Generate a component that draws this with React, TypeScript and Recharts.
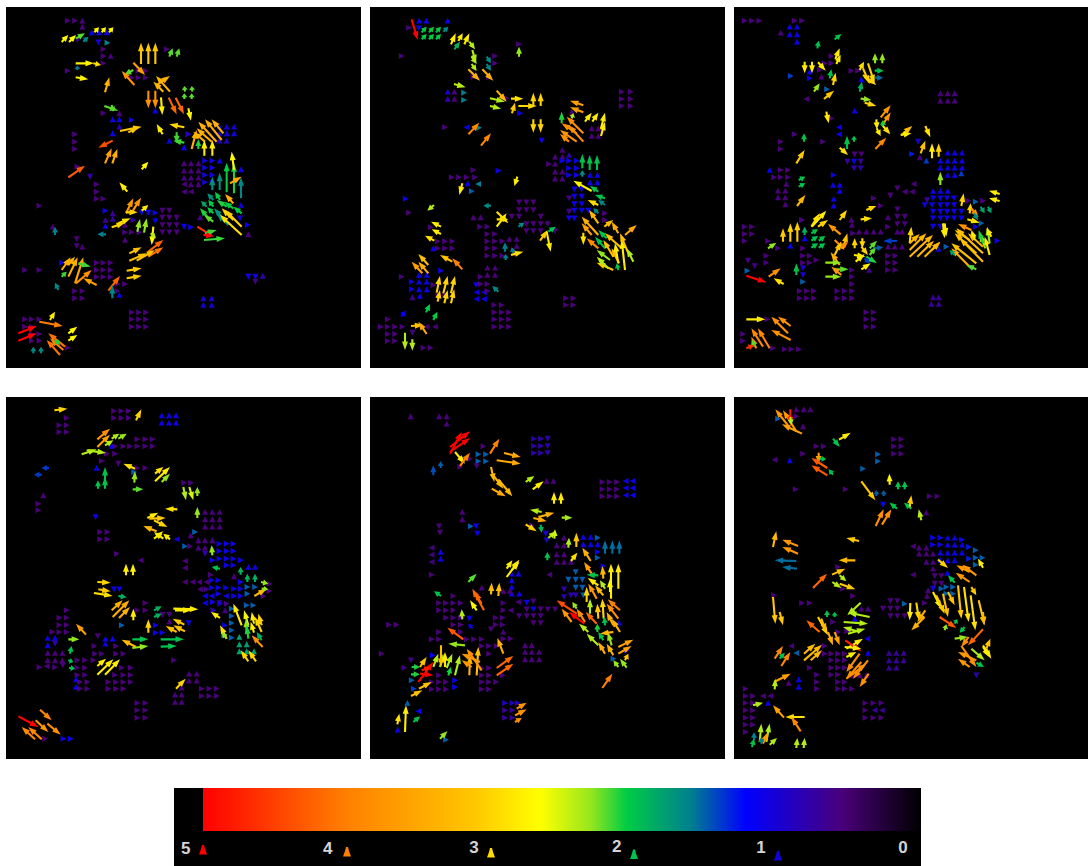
import React from "react";
import { ScatterChart, Scatter, XAxis, YAxis, ReferenceArea } from "recharts";

// long arrows: tail x, tail y, tip x, tip y, speed (grid units = 1/3 px)
// small arrows: heading, speed, y, then the x of each arrow in that row
type A = number[];
const R = 0, U = 90, L = 180, D = 270;

const p1Long: A[] = [
[185,126,205,105,2.7],[207,126,228,105,2.7],[228,115,255,100,2.2],[250,125,265,110,1.65],[283,97,297,82,2.7],[305,97,318,82,2.7],[327,97,340,82,2.7],
[227,190,282,190,2.75],[280,190,303,195,2.9],[227,232,265,238,2.75],[232,210,232,197,1.6],[423,192,423,128,3.1],[445,192,445,128,3.1],[466,192,466,128,3.1],
[508,170,518,145,2.2],[530,170,538,145,2.2],[400,188,435,225,3.6],[400,210,372,225,2.2],[403,255,365,213,3.8],[315,277,328,232,3.4],
[510,275,468,228,3.3],[490,275,460,245,3.3],[470,255,510,228,3.4],[445,272,445,325,3.8],[466,272,466,325,3.8],[483,292,487,345,2.8],[506,293,530,343,4.2],[527,293,552,343,4.2],
[555,275,553,258,2.2],[553,297,553,280,2.2],[577,275,575,258,2.2],[575,297,575,280,2.2],[565,325,573,362,2.7],[313,318,355,332,2.2],[335,315,340,335,2.2],
[360,393,425,380,3.1],[385,397,415,382,3.1],[488,403,470,372,2.8],[553,382,508,373,3],[530,397,530,430,2.15],[553,428,520,422,2.15],[338,422,295,443,4.4],
[315,490,335,445,3.6],[337,490,352,447,3.4],[425,508,445,485,2.7],[205,532,255,497,4.3],[382,575,358,547,2.8],
[637,570,637,530,1.7],[659,570,659,518,1.7],[680,577,680,488,2.05],[702,580,702,490,2.1],[702,510,695,455,2.7],[723,595,723,532,1.65],[690,550,725,530,3.5],
[665,420,615,358,3.4],[650,425,595,365,3.4],[635,425,590,385,3.4],[615,425,580,395,3.4],[670,400,635,358,3.4],[575,447,590,390,3.4],[595,447,595,418,2.1],[613,467,613,420,2.8],[637,467,637,420,2.8],
[640,600,622,580,1.7],[660,600,645,575,2.05],[620,620,603,603,1.8],[640,640,622,622,2.05],[622,650,600,625,2.1],[640,665,612,645,2.2],[640,620,625,600,2.05],[680,620,650,600,2.1],[665,650,642,625,1.7],[700,625,672,605,2.05],[685,675,650,640,1.7],[700,660,665,625,3],[725,680,675,630,3],[725,705,660,645,2.9],[725,640,700,620,2.05],[700,610,675,582,3.4],
[592,680,640,710,4.6],[612,720,675,715,2.15],[615,700,650,690,2.15],[610,705,640,708,5],
[378,640,400,595,3.7],[395,638,423,593,3.7],[378,637,413,637,3],[425,632,445,615,2.8],[355,670,392,655,2.9],[335,682,375,668,3],[412,695,420,657,2.3],[432,698,440,655,2.3],
[460,680,455,735,2.7],[452,700,468,715,2.4],[445,755,490,720,4.2],[445,770,490,742,4.1],[388,760,425,742,3.2],[388,782,440,760,3.2],[410,782,465,750,3.2],
[318,703,292,703,1.6],[165,705,165,680,1.6],[185,810,212,772,3.4],[205,830,233,772,3.4],[225,850,250,772,3.5],[228,850,275,810,3.8],[290,855,250,835,3.6],[205,795,225,770,3.4],[185,830,200,815,2.15],[235,790,272,800,2.15],
[380,812,425,805,3.1],[380,835,425,827,3.1],[325,872,360,828,4.2],[337,895,337,855,1.65],[175,870,165,848,1.65],
[55,1000,110,978,5],[55,1022,110,1000,5],[118,965,188,978,4],[150,960,165,935,2.8],[205,1000,232,980,2.7],[205,1022,232,1005,2.7],[195,1040,145,1000,4.1],[180,1065,140,1020,4.1],[190,1050,150,1015,4],[165,1020,180,1035,2.1],[100,1060,100,1040,1.65],[123,1060,123,1040,1.65],
];
const p1Small: A[] = [
[R,.55,62,203,225],[U,.55,62,247],[U,.55,80,247],[U,1.1,97,275,297,320],[D,.6,120,232],[D,1,127,295],[R,1.6,128,322],[R,.55,148,310,500],[R,.55,168,310],[U,.55,168,332],[R,.55,190,310],[R,.55,212,203,415,437],[R,.55,233,395,415,437],
[U,.55,340,358],[R,.55,340,310],[U,1.1,358,338,358],[R,1.1,360,395],[U,1.1,332,466],[U,.8,380,358],[U,1.1,400,338],[R,.55,403,225,565],[R,.55,425,225],[R,.55,447,225],[R,.55,500,232],[D,.8,530,270],[R,.55,553,290],[R,.55,575,290],[R,.55,596,290,310],
[U,.55,490,552,573,595],[U,.55,512,552,573,595],[U,.55,533,552,573,595],[L,.55,553,552],[U,.55,553,573,595],[L,.55,575,552,573],[R,1.05,482,615,637],[U,1.1,482,659],[R,1.05,503,615,637],[R,1.05,525,615,637],[R,1.05,547,615,637],[U,1.1,508,723],
[U,1.05,380,658,680,702],[U,1.05,400,658,680,702],[U,.9,422,658,680],[U,1.1,422,508],[U,1.1,442,552],[R,.9,403,565],[U,1.05,615,723],[D,1,655,720],[U,.6,652,600],[R,1.1,675,743],[U,.55,703,745],
[D,1.1,680,552],[R,1.1,682,573],[D,.55,632,487,508],[D,.55,653,487,508,530],[D,.55,675,487,508,530],[D,.55,697,487,508,530],[D,1.1,638,425,445],[R,1.1,638,466],[D,1.1,663,466],[R,.8,660,400],[R,1.1,632,316],[U,.7,640,338],[U,.7,657,338],[U,.7,660,316],[U,1.1,678,316],[U,.55,675,375],[R,.55,697,375,395,418],[U,.55,720,375],
[U,.55,680,158],[D,.55,717,230],[D,.55,738,230],[U,.55,740,247],[R,1.1,788,186],[R,.55,788,290,310,332],[R,.55,810,75,118,290,310,332],[R,.55,831,290,310,332],[R,.55,873,225,247,352],[R,.55,895,225,247],[R,.55,852,352,375],[U,1.1,885,358],[R,.55,617,118],
[U,1,895,610,635],[U,1,915,610,635],[R,.55,937,395,417,438],[R,.55,958,395,417,438,75,95,118],[R,.55,980,395,417,438,75,95],[R,.55,1002,118,95],[R,.55,1022,95,118],[R,.55,1043,203],[D,.6,845,766],[D,1.1,830,745,766],[U,.8,828,788],
];

const p2Long: A[] = [
[140,58,158,120,5],[170,97,185,80,2.05],[192,97,207,80,2.05],[213,97,228,80,2.05],[235,95,250,80,1.65],[170,118,185,102,2.05],[192,118,207,102,2.05],[213,118,228,102,2.05],
[258,133,272,100,2.8],[280,123,293,100,2.8],[298,133,313,100,2.8],[268,148,285,125,1.9],[313,125,330,148,2.4],[322,150,333,190,2.4],[320,170,335,192,2.4],[320,192,335,213,2.4],[310,208,345,242,3.4],[352,208,385,242,3.4],
[365,170,378,190,1.65],[365,192,378,212,1.65],[462,170,462,140,2.3],[267,252,302,262,2.4],[375,295,420,305,2.4],[375,318,408,326,2.4],[395,272,425,305,3.3],[438,296,475,296,2.9],[460,318,515,318,2.95],[441,340,450,308,3.1],[505,318,505,278,3],[527,318,527,278,3],[505,358,505,398,3],[527,358,527,398,3],
[310,403,343,368,3.9],[348,437,378,400,3.9],[655,316,615,302,3.6],[655,337,615,322,3.6],[590,370,590,335,2.1],[655,400,605,350,3.8],[635,400,590,370,3.8],[655,425,610,375,3.8],[635,425,585,390,3.8],[612,425,585,402,3.8],[620,355,625,340,2.4],[660,365,680,338,2.8],[682,365,700,338,2.8],[708,385,720,338,2.8],[708,408,720,365,2.8],
[652,505,652,462,2],[674,510,674,465,2],[696,510,696,465,2],[652,530,652,510,1.65],[680,573,625,542,2.75],[700,575,675,558,2],[720,595,690,585,2],[720,615,700,600,1.65],[700,615,668,600,2.9],[700,640,685,625,1.65],[700,670,672,630,3.3],
[700,705,650,650,3.4],[680,705,650,670,3.6],[655,698,655,735,2.9],[700,745,665,715,3.9],[725,715,700,690,2],[720,745,690,710,2],[770,745,720,700,3.2],[745,770,715,720,3.2],[762,790,740,745,3.2],[790,760,765,700,3.2],[780,810,770,720,2.8],[760,790,750,730,2.8],[718,680,745,660,3.2],[780,705,815,675,3.5],[760,700,740,665,3.4],[805,785,785,745,2.4],[745,810,695,788,3.1],[730,805,695,770,2.4],[735,780,695,750,2.3],[760,810,755,790,2],
[457,530,448,558,2.8],[292,550,283,585,2.8],[207,615,187,632,2.4],[378,617,355,617,1.65],[395,635,430,670,2.9],[395,680,425,640,2.8],[395,658,430,658,2.9],[460,680,478,668,1.65],[550,695,572,680,2],[525,722,548,690,3.1],[545,695,557,755,2.8],
[420,755,420,727,1.6],[445,760,440,742,1.6],[422,780,422,762,1.6],[438,765,475,755,2.9],[228,680,198,665,2.8],[228,702,200,688,2.8],[208,722,180,707,2.9],[262,785,225,765,3.2],[292,808,262,775,4],[190,795,160,762,3.2],[190,820,160,785,3.4],[172,820,140,785,3.6],
[215,878,225,828,3],[235,880,248,828,3],[258,880,270,828,3],[218,905,225,870,3],[238,910,248,870,3],[258,910,268,868,3],[400,875,382,858,1.65],[183,937,195,912,2.05],[205,960,217,935,2.05],[108,950,122,932,1.2],[138,978,175,975,3.2],[185,1002,160,965,3.5],[120,998,120,1050,2.4],[142,1018,142,1052,2.4],
];
const p2Small: A[] = [
[U,1.1,62,162,184,248],[R,.55,83,132],[D,1.1,85,162],[R,.55,133,462],[R,.55,168,110,390],[R,.55,190,390],[R,.55,232,325,372],[U,1,275,248],[U,.55,275,268],[U,.8,297,248],[U,.55,297,268],[R,1.6,278,297],[R,1.6,300,297],[R,.55,295,425],[R,1.1,340,465],
[R,.55,382,240],[L,1.1,382,305],[R,1.6,383,342],[D,1.1,422,530],[R,.55,275,770,797],[R,.55,297,770,797],[R,.55,318,770,797],[U,.55,385,680,700],[U,.55,408,680,700],[U,.55,335,620],
[U,.55,450,592],[U,.55,470,570,592],[U,.8,465,612],[R,.55,492,552],[U,.55,492,570],[R,1.1,482,592,612,635],[R,1.1,505,612,635],[U,.55,515,570,592],[R,1.1,525,612,635],[U,.55,536,570,592],[U,1.1,525,675,697],[U,1.1,547,675,697],
[D,1.1,568,628,650],[D,1.1,590,628,650],[D,.6,595,612],[D,1.1,612,628,650],[D,1.1,632,628,650,670],[D,.6,635,612],[D,1.1,655,612,628],[R,.55,640,720],[R,.55,660,720],
[R,.55,510,325],[R,1.1,512,400],[R,.55,532,260,282,305,330],[U,1.1,550,308],[L,1.6,552,340],[R,1.5,574,320],[R,1.1,596,122],[R,.55,638,132],[D,.55,607,462,484,505],[D,.55,630,462,484,505],[D,.55,650,440,462,527],[D,.55,672,484,505,527,548],[D,.55,693,484,505,527,570],[U,.55,652,325,347],[R,.55,680,345,367],
[R,.55,702,367,390],[R,.55,724,367,390,412,218,240,262],[R,.55,745,367,390,218,240,262],[R,.55,767,367,390,412],[U,.55,717,433,455],[U,.55,738,455],[R,.55,760,455],[R,.55,682,197],[U,1.1,745,205],[R,.55,830,110],
[U,1.1,825,162,185],[R,1.1,845,140],[U,1.1,845,162,185],[R,1.1,868,140],[U,1.1,868,162,185],[U,.6,892,142],[U,1.1,888,165],[R,1.1,812,228],[R,.55,885,220,240],[R,.55,855,205],[D,1.1,855,333],[L,1.1,877,335,357],[L,1.1,897,335,357],[R,.55,830,347],[R,.55,852,347,367],[U,.55,803,367,390],[U,.55,825,367,390],[R,.55,873,367],
[R,.55,915,388,410,603,625],[R,.55,895,603,625],[R,.55,937,388,410,432],[R,.55,958,388,410,432,68],[R,.55,980,388,410,432,47,68,90,112],[R,.55,1002,68,90],[R,.55,1023,68,90],[R,.55,1043,175,197],[L,.55,980,185,210],[D,.6,998,142],
];

const p3Long: A[] = [
[268,145,272,122,2],[320,118,340,102,2],[322,177,335,145,2.8],[325,192,338,165,2.8],[230,185,230,220,2.8],[252,185,252,220,2.8],[270,187,293,212,2.8],[305,235,310,208,2],[315,255,323,218,3],[258,275,275,250,2.3],[288,297,318,272,3.1],
[441,190,441,160,2.3],[463,190,463,160,2.3],[395,210,408,185,2.9],[420,190,440,250,3],[405,225,445,255,3],[405,205,425,252,3],[440,212,467,212,2],[440,233,465,233,1.55],[395,275,402,245,1.9],[398,296,430,300,2.3],[410,308,445,318,3],
[458,352,488,316,3.7],[462,378,488,337,3.7],[445,358,447,388,2.8],[446,385,458,408,2.8],[465,380,465,360,2.1],[465,378,487,403,2.9],[442,447,475,413,3.9],[295,335,302,370,2.8],[228,425,228,400,2],[357,447,357,407,2],[378,425,378,407,2],[335,443,360,465,2.9],[205,490,230,450,3.1],
[520,405,553,378,3.2],[518,405,550,400,2.8],[592,378,607,412,2.9],[578,460,592,422,3.2],[612,475,612,430,2.8],[632,470,632,430,3],[637,555,637,515,2.3],[212,540,232,530,2],[212,560,232,550,2],[207,618,232,585,3.3],
[700,618,707,580,3],[758,620,770,640,1.8],[780,620,790,640,1.8],[815,582,783,572,2.8],[815,603,783,595,2.8],[725,640,728,610,3],[730,625,752,652,3.8],[738,640,750,660,1.7],[718,658,755,668,2.9],
[335,660,357,630,3],[250,680,275,640,2.9],[252,680,295,632,2.8],[270,680,300,660,3],[415,630,445,618,3],[398,658,432,655,2.9],[165,725,165,685,3.1],[187,725,187,670,3],[208,725,208,665,3.1],[230,705,230,680,1.9],[120,745,145,728,2.3],
[250,700,270,688,2],[250,722,270,708,2],[272,722,292,708,2],[250,743,270,730,2],[272,743,292,730,2],[338,703,300,672,3.7],[320,720,350,750,3.8],[345,745,358,700,3.2],[320,765,340,725,3.1],[338,745,360,725,3.8],[380,745,380,715,3],[403,715,403,745,3],[400,740,420,765,3],
[425,745,447,722,2.2],[425,765,445,740,2.2],[415,770,447,790,2.1],[378,765,412,770,2.8],[383,785,410,762,2.8],[400,808,428,790,2.8],[410,775,425,790,1.4],[440,745,465,742,1.5],[507,723,465,723,1.4],[335,795,308,757,3.4],[292,788,340,788,2.3],[318,808,362,808,2.2],[292,830,340,830,2.3],[340,825,310,800,3.7],
[205,825,205,790,2],[55,827,115,847,5],[122,830,158,805,3.8],[167,852,137,835,2.9],
[545,730,550,680,3],[545,730,575,702,3.3],[545,750,595,700,3.3],[545,770,615,705,3.3],[568,770,618,722,3.3],[590,770,637,725,3.3],[612,750,637,725,3.3],
[650,670,655,710,2.8],[765,785,695,715,3.2],[745,790,670,730,3.2],[745,760,680,700,3.2],[765,760,685,685,3.2],[725,800,670,745,3.4],[730,690,690,672,3.8],[765,740,720,700,3.4],[725,720,680,690,3.2],[740,720,730,690,2.8],[785,765,770,710,2.8],[772,745,755,700,2.3],[785,730,778,680,2.3],[790,710,775,685,2.8],[645,670,650,715,2.8],[745,808,715,795,2.2],[680,765,665,750,1.8],[765,730,752,690,2.1],
[55,958,112,958,2.8],[188,978,150,950,3.8],[180,1000,130,950,3.8],[188,1020,130,990,3.8],[125,1045,90,985,3.9],[105,1040,70,985,3.9],[85,1045,70,1010,4],[80,1040,72,1020,2.2],[55,1045,80,1035,4.6],
];
const p3Small: A[] = [
[R,.55,62,50,72,94,200,222],[U,.6,98,158],[U,1.1,80,185,207],[U,1.1,103,185,207],[U,1.1,125,207],[R,.55,190,290,310],[R,.55,168,310],[R,.55,210,275],[U,1.1,215,245],[R,1.1,235,245],[R,1.4,228,188],[U,.55,230,280],[R,1.5,268,297],[L,.55,297,235],[R,.55,212,370,390],[U,1.2,238,400],
[U,1.1,332,380],[U,.55,280,637,659,680],[U,.55,302,637,659,680],[R,.55,355,310],[L,1.1,382,333],[L,1.1,403,333],[R,.55,403,200],[R,.55,425,158,285],[R,.55,447,158],[D,.55,463,380,400],[D,.7,485,358,398],[D,1.1,485,378],[D,.8,505,378,398],[D,1,425,570],[R,1.3,462,552],[U,.55,472,575],[U,1.4,482,595],
[U,1.1,458,659,680,702],[U,1.1,482,637,659,680,702],[U,1.1,503,637,659,680,702],[U,1.1,525,659,680],[U,1.4,520,700],[U,1.1,510,125],[R,.55,510,158,180],[R,.55,532,138,158,180],[U,.55,552,175],[U,.55,572,150,172],[U,.55,592,150,172],[U,.55,613,172],[R,1.1,525,317],[U,1.1,555,315,335],[U,1.1,573,335],[U,1.1,597,317],[U,1.1,617,317],
[D,.55,565,508],[L,.55,575,530,552],[L,.55,552,557],[D,.55,587,487],[R,.55,595,437],[R,.55,617,458],[D,.55,628,508],[D,.55,650,508,530],[U,.55,652,480],[D,.55,672,508,530],[U,.55,695,393,415,437,458,522,508],[R,.55,680,480],[U,.55,660,370],[U,.55,675,372],[R,.55,700,375],[U,1.1,737,187],[R,.55,660,222],
[U,1.1,573,615,637,659],[D,.7,600,597],[D,1.1,595,615,637,657,678],[D,1.1,615,590,612,637,657,678],[D,1.1,635,615,637,657,678,700],[D,1.1,655,615,637,657,678,700],[D,1.1,680,615,637],[R,1.5,605,743],[R,.55,602,720,765],[R,1.1,680,743],[R,1.5,670,760],[R,1.1,722,808],[U,1,747,632],[R,1.5,740,655],
[R,.55,680,50,72],[R,.55,702,50,72],[R,.55,723,50,120],[U,1.1,715,230],[R,.55,660,222],[R,.55,745,225,150],[R,.55,767,225,245,480,502,115],[R,.55,788,225,245,480,502,115],[R,.55,810,480,502],[U,.55,740,500,522,480],[R,.55,810,372],[R,.55,830,372],[R,.55,852,372],[R,.55,780,265],
[D,1,805,225],[D,1,825,225],[R,1.5,845,225],[D,.6,782,60],[D,.6,798,80],[R,1.5,812,58],[U,.6,810,423],[R,.55,873,215,237,258,328,350,372],[R,.55,895,215,237,258,328,350,372],[U,.7,892,615,632],[U,.7,912,610,632],[R,.55,937,415,437],[R,.55,958,415,437,118],[R,.55,980,415,437],[R,.55,1002,45],[R,.55,1023,45],[R,.55,1045,135],[R,.55,1048,170,190,213],
];

const p4Long: A[] = [
[163,55,202,50,3],[408,85,424,52,3],[292,142,330,110,3.8],[292,165,330,128,3.6],[315,160,340,145,2.4],[335,140,358,125,2.4],[355,140,380,125,2.3],[245,187,290,172,2.4],[260,175,318,183,2.4],
[147,228,125,228,1.4],[125,248,102,248,1.4],[405,230,370,215,2.9],[403,272,405,238,2.3],[315,265,315,225,2],[315,290,315,255,2],[294,290,294,265,2],[398,292,430,292,2.2],[465,245,490,225,2.9],[465,268,510,225,2.8],[485,270,510,245,2.3],
[550,285,558,325,2.4],[568,285,580,325,2.5],[592,312,592,285,2.3],[532,352,495,350,2.9],[592,378,592,345,2.3],[442,378,475,362,2.8],[448,380,497,378,3.1],[462,385,502,405,3],[470,418,430,402,3.3],[462,440,490,418,2.8],[490,440,462,420,2.8],[510,442,490,425,2.8],
[637,490,635,460,2.3],[660,530,635,525,2],[722,548,722,525,1.9],[378,550,378,515,2.8],[399,550,399,515,2.8],[742,570,742,545,1.9],[765,570,765,545,1.9],[783,570,805,575,2.3],[763,612,800,590,3.3],[785,590,805,592,2.3],
[292,570,332,572,3],[295,592,332,598,3.1],[282,603,338,612,2.9],[355,612,380,616,1.9],[335,655,368,625,3.4],[338,675,388,625,3.4],[357,678,390,645,3.4],[400,685,400,650,2.8],[462,675,485,665,1.9],[462,655,485,643,1.9],[520,650,595,652,2.8],[525,655,575,655,2.8],[553,698,518,680,3.1],[555,718,520,700,3.2],[530,720,497,702,3.2],[445,722,445,682,3],
[660,678,633,660,2.8],[725,700,700,635,2.8],[745,700,732,655,2.6],[762,695,755,660,2.8],[785,720,765,675,3],[785,700,775,665,3],[740,720,738,680,2.3],[762,722,752,690,2.8],[745,740,740,700,2.1],[788,765,755,730,3.8],[785,745,770,720,1.9],[680,740,660,700,2.9],[680,740,665,720,2.3],[745,808,722,775,3],[768,808,745,775,3],
[258,728,228,695,3.6],[205,742,238,742,2.3],[210,785,215,762,2],[408,765,365,743,3.3],[397,742,445,742,2],[397,768,445,762,2.3],[482,742,552,742,2],[482,764,530,762,2],[205,805,220,810,2],[207,827,225,830,2],
[292,822,318,800,2.8],[292,848,340,802,2.8],[315,848,360,802,2.8],[528,890,557,860,3],[55,973,115,1005,5],[120,953,155,985,3.9],[107,985,145,1020,3.7],[142,995,182,1028,3.8],[105,1042,65,1005,3.9],[125,1042,85,1005,3.9],
];
const p4Small: A[] = [
[R,.55,57,342,364,386],[R,.55,78,342,364,386,200],[R,.55,100,178,200],[R,.55,120,178,200],[U,1.1,70,485,507,528],[U,1.1,92,485,507,528],[R,.55,142,412,436,458],[R,.55,163,345,370,390,412,436,458],[R,.55,185,320,345],[R,.55,207,305],[U,1.1,162,335],[U,1.1,228,290],[D,.55,215,355],[R,.55,228,412,436],[R,1.5,240,402],
[R,.55,272,552,573],[U,.55,310,130],[R,.55,335,115],[R,.55,355,115],[D,1.1,375,287],[U,.55,360,615,637,659],[U,.55,382,615,637,659],[U,.55,404,615,637,659],[R,.55,420,300,322],[R,.55,442,300,322],[R,1.5,420,585],[U,.55,430,572],[L,1,442,530],[R,1.5,463,555],[R,.55,463,570],[U,.55,445,595,615,637],[U,.55,467,595,615],[D,.8,485,615],
[R,1.1,455,658,680,700],[R,1.1,477,658,680,700],[R,1.1,505,637,722],[R,1.1,500,658,680,700],[U,1.1,525,745,765],[R,1.1,520,680,700],[R,.55,485,350],[L,.55,505,422],[L,.55,507,555],[L,.55,528,555],[R,.55,548,632],[U,.55,553,702],
[R,1.5,585,742,765],[R,1.5,605,742],[R,.55,575,808],[R,.55,597,808],[R,.55,612,790],[R,1.1,570,722],[R,1.1,590,702,722],[R,1.1,612,702,722],[R,1.1,565,635,655],[R,1.1,587,635,655,678],[L,1.1,612,615,635,678],[R,1.1,605,655],[L,1.1,633,615],[R,1.1,630,638],[D,.8,633,658],[R,.6,635,680],[L,.55,570,555,578,598,620],[L,.55,592,600],[R,.6,592,620],[D,1.1,592,342,358],
[R,.55,655,412,436],[R,.55,633,436],[D,.55,668,487,508],[U,.55,688,508],[D,1.1,693,566],[R,1.1,700,467],[R,1.1,722,467,487],[R,1.5,700,365],[R,1,635,660],[R,.8,655,640],
[R,1.5,650,695],[R,1.5,672,695],[R,1.5,693,695],[R,1.5,715,695],[R,1.5,737,695],[U,1.8,735,718],[U,1.8,757,718,740],[U,1.8,778,718,740,762],[R,1.5,640,760,740],[R,1.1,700,675],[U,.6,655,675],[R,1.5,730,672],
[R,.55,655,200],[R,.55,677,178,200],[R,.55,699,178,200],[R,.55,720,157,178,200],[U,1.1,738,143,165],[D,.8,755,165],[U,1.1,760,143],[U,.55,783,143,165,187],[U,.55,805,143,165,187],[R,.55,826,118,165],[L,.55,823,140],[D,.55,820,188],[D,.55,732,293],[U,1.1,740,316,338],[U,1.1,755,316],[R,.55,762,283,348],[R,.55,785,285,305,348,370],
[R,.55,805,522,232,255,280],[R,.55,827,232,255,365,392],[R,.55,849,232,255,345,370,392],[U,1.1,862,228],[U,1.1,885,228],[R,.55,870,240,262,325,348,370,392],[R,.55,890,240,262,325,348,370],[U,.55,845,567,590],[U,.55,866,567,590],[U,.55,887,545],[U,.55,908,525,545],[U,.55,930,525,545],[R,.55,890,605,628,650],[R,.55,912,605,628,650],[R,.55,933,412,436],[R,.55,955,412,436],[R,.55,977,412,436],[R,.55,1040,135],[R,1.1,1040,190,212],
];

const p5Long: A[] = [
[255,165,315,118,5],[255,180,315,138,5],[255,185,290,120,5],[270,180,300,215,2.8],[285,222,315,182,3.9],[375,185,403,140,4],[417,183,467,195,3.5],[395,205,467,215,3.5],[205,250,205,220,1.45],[227,228,227,208,1.5],
[378,225,388,270,3.3],[385,250,415,290,3.3],[400,262,442,313,3.3],[380,290,422,313,3.5],[482,270,508,252,2.4],[503,292,536,268,2.8],[567,335,567,300,2.8],[588,335,588,300,2.8],[530,360,495,353,2.4],[520,375,568,362,3.4],[505,378,545,388,3.5],[590,377,622,377,2.35],[482,397,515,418,3],[527,398,530,422,1.9],[550,438,573,418,2.4],[568,440,570,412,2.5],
[634,465,634,422,3.1],[720,485,720,445,1.55],[742,485,742,445,1.55],[763,485,763,445,1.55],[610,467,612,437,2.4],[547,505,547,480,2],[618,507,637,482,2.9],[677,507,652,467,3.4],[425,530,442,505,2.8],[425,555,463,503,2.8],[440,535,463,510,2.8],[310,570,335,545,2.2],
[378,607,380,572,3.2],[400,612,403,572,3.2],[357,655,322,590,4.2],[350,635,328,600,4.2],[335,655,315,625,2.7],[228,612,207,598,2],[292,682,290,652,2.4],[322,710,310,695,1.1],[295,742,247,707,4.3],[415,785,397,738,3.4],[395,828,445,792,4.2],[395,850,445,815,4.2],
[300,760,250,755,2.3],[225,825,235,785,2.4],[245,828,262,785,2.4],[270,850,285,790,2.4],[205,825,220,785,2.4],[228,760,228,825,3.2],[240,825,240,780,2.8],[250,850,258,825,2.1],[313,850,315,790,3.3],[335,850,340,765,3.2],[350,835,305,770,3.8],[345,810,290,785,3.7],[320,825,290,805,3.7],
[140,825,165,825,2.1],[138,847,165,847,2.1],[165,825,185,795,3.2],[160,870,205,810,5],[165,845,205,850,5],[170,835,200,825,4.8],[162,890,200,870,3.2],[138,912,172,895,3.2],[97,997,103,965,2.9],[120,1020,123,940,2.8],[145,990,165,973,2],[225,1040,247,1018,2.3],[455,950,485,932,3.8],[450,970,485,952,3.8],[450,990,470,978,3.8],[712,888,742,845,4],
[738,620,738,515,2.8],[760,590,760,515,2.8],[735,600,735,560,2.7],[680,545,657,510,3.6],[700,550,665,548,2],[700,580,668,558,2.8],[715,560,712,522,3.3],[720,590,705,565,2.4],[695,620,670,575,3.7],[715,610,690,580,3.3],[675,665,675,620,2.4],[665,630,665,585,3],
[700,680,697,635,3.1],[716,680,712,620,3],[765,655,728,622,4],[760,680,725,635,3.8],[745,700,725,660,3.4],[765,720,740,680,3.4],[635,665,575,625,4.4],[620,690,590,650,3.7],[658,695,612,660,5],[660,690,635,650,3.8],[695,695,662,660,4.2],[635,650,622,630,2.3],
[670,720,642,695,2.4],[700,760,665,725,2.4],[697,720,697,695,2.1],[720,700,718,675,2],[715,745,700,720,2],[720,785,700,750,3.4],[745,790,725,755,3.4],[740,760,728,720,2.3],[745,720,705,725,3.3],[760,765,805,743,3.6],[760,785,800,762,3.6],[780,805,790,785,3.1],[760,825,745,805,2.3],[785,827,765,800,2.3],
];
const p5Small: A[] = [
[U,.55,73,137,222,245],[U,.55,95,245],[R,.55,163,355],[R,1.5,187,340,363],[R,1.5,208,340,363],[R,.55,200,315],[R,.55,225,285],[D,.55,222,335],[R,.8,140,507,528],[D,.8,140,548],[R,.8,162,507,528],[D,.8,162,548],[R,.8,183,507,528],[D,.8,183,548],[U,.55,267,545,565],
[R,.55,270,712,734,756],[R,.55,292,712,734,756],[R,.55,313,712,734,756],[L,1.1,267,782,803],[L,1.1,288,782,803],[L,1.1,310,782,803],[R,.55,400,500],[D,1,425,542],[D,1,445,545],[U,.55,360,292],[U,.55,382,292],[R,1.5,403,317],[D,1.1,403,333],[D,1.1,425,337],[D,.55,403,222],[D,.55,422,225],[L,.6,467,200],[L,.6,488,200],[L,.6,510,200],[U,1.1,480,227],[U,1.1,500,227],[R,.55,548,200],
[U,1.1,435,655,677],[R,1.5,437,698],[U,1.1,457,655,677,698],[R,1.1,480,698],[R,1.5,497,698],[U,.55,437,597],[U,.55,460,575,597],[U,.55,487,575,597],[U,.55,510,575,597,618],[U,1.1,545,440,460],[L,.55,548,553],[U,1.1,565,440],[U,1.1,585,440],[U,1.1,605,440,463],[U,.55,587,350],[U,.55,597,415,435],
[D,1.5,563,610,632,652],[D,1.5,540,632],[D,1.5,587,632,652],[D,.8,592,597],[D,.8,610,618,632],[D,.8,615,597],[D,1.5,610,655],[R,1.1,522,715],[R,.55,612,265],[R,.55,633,222,243,265,287,415],[R,.55,655,222,243,265,415],[R,.55,677,243,265,287,392,413],[D,1.1,680,313],[R,.55,698,265,287,392,413,72,94],[L,.55,655,437],[L,.55,630,460],
[D,1.1,632,485],[D,.55,628,505],[D,.55,652,485,527,548,570],[D,1.1,652,505],[D,.55,672,462,485,505,527],[D,.55,693,505,527],[D,.55,712,378],[U,.55,720,415],[R,.55,720,222,265,287],[R,.55,740,415,437],[R,.55,742,200,222,305,327,350],[R,.55,762,350,372,395],[R,.55,785,372,50],[R,.55,828,350,372],[R,.55,850,350,372,222],[R,.55,870,350,372,393,200,222,243],[R,.55,892,350,372,200,222,243],
[U,.55,760,480,500],[U,.55,780,480,500,522],[U,.55,802,480,500,522],[R,.55,850,413],[D,.6,805,138],[R,.6,827,118],[R,1.5,865,140],[R,1.4,890,146],[R,1.2,790,203],[R,1.1,865,270],[R,1.1,885,270],[U,1.5,933,127],[L,1.1,958,160],[U,1.1,1013,98],[R,1.5,1043,243],
[R,.9,933,420,442,458],[R,.7,955,420,442],[R,.7,977,420,442],[U,1.1,692,762],[R,1.1,775,785],[R,1.5,800,745],
];

const p6Long: A[] = [
[180,100,142,52,3.7],[205,118,165,55,3.7],[222,125,162,97,3.6],[187,52,187,100,4.8],[187,75,190,100,2.4],[333,143,368,122,2.8],[315,140,335,165,2],[272,182,272,215,3.6],[298,228,250,198,4.3],[298,250,250,220,4.3],[275,200,295,202,2],[315,248,302,232,2],
[400,268,442,325,3.1],[485,278,484,245,2.7],[510,292,510,268,2],[530,292,530,268,2],[445,312,445,295,1.5],[467,312,467,295,1.5],[507,350,485,332,2],[550,350,528,332,2],[545,345,550,310,3.1],[580,385,572,352,2.4],[443,402,467,352,3.8],[462,398,490,352,3.8],
[135,465,145,418,3.3],[210,462,163,443,3.7],[210,485,163,465,3.7],[393,447,355,438,3.1],[382,505,332,505,3.3],[205,507,140,505,1.55],[207,530,162,525,1.55],[630,503,660,528,3],[765,527,750,500,2.8],[745,550,703,518,3.7],[725,570,683,542,3.7],[725,540,685,520,3.7],[680,572,660,550,2],
[615,600,640,650,2.8],[625,610,650,665,3.1],[645,605,660,675,3.2],[660,600,680,640,3.2],[690,580,700,680,3.1],[708,585,722,690,2.9],[730,585,745,610,3.1],[728,610,742,715,2.9],[752,625,770,700,3.1],[765,660,768,700,3.3],[635,675,685,708,4.3],[680,695,688,682,2],[650,715,655,697,2.3],[710,705,695,722,2],[680,740,720,735,2.3],
[765,712,720,760,4.2],[722,735,700,765,3.8],[700,762,745,825,3.8],[725,825,690,800,3.7],[745,805,690,780,3.7],[765,760,790,800,2.8],[730,770,770,805,2.4],[745,812,768,825,2],[775,770,787,740,3.2],[765,765,785,795,2.8],
[312,548,352,530,3.2],[335,550,355,568,2.4],[313,570,340,588,2.4],[335,575,382,592,3.1],[255,588,297,545,4.2],[135,615,142,695,3.1],[155,660,165,700,3.1],[547,633,545,685,2.8],[565,632,573,685,3],[592,655,568,690,3.4],[590,675,550,715,3.4],
[275,720,235,685,4.2],[398,632,358,670,2.4],[425,675,360,662,2.4],[297,675,297,655,2],[320,675,320,660,2],[270,675,300,730,3],[280,680,295,720,3.3],[300,720,315,760,3.4],[320,720,335,760,3.6],[347,690,420,695,2.4],[360,725,412,710,2.4],[395,720,345,705,2.4],[355,770,405,740,2.8],[352,745,400,778,4.8],[350,765,400,770,2.8],[355,795,385,780,2.8],
[395,785,355,840,3.8],[420,805,375,860,3.8],[400,810,355,860,3.8],[422,845,395,885,3.8],[355,860,415,815,3.8],[140,800,165,762,3.9],[160,822,187,780,3.9],[155,800,170,782,2],[228,785,262,755,3.3],[228,805,282,758,3.3],[248,805,282,775,3.3],[138,870,188,845,3.6],[140,892,142,860,2.4],
[75,940,105,932,2.4],[168,977,135,940,3.6],[230,975,172,975,2.9],[218,1018,190,975,3.9],[95,1050,100,995,2.4],[115,1050,125,995,2.4],[105,1055,120,1020,3.6],[78,1045,78,1020,1.6],[100,1055,100,1035,1.6],[72,1065,78,1040,2],[125,1058,147,1038,2.4],[205,1068,208,1038,2.4],[227,1068,230,1038,2.4],
];
const p6Small: A[] = [
[U,.55,52,205,227,247],[R,.55,73,205],[U,.55,103,225],[R,1.5,80,150],[R,.55,163,265,287],[R,.55,185,225],[L,.55,203,140],[U,1.1,205,185],[R,.55,142,498,520],[R,.55,163,498,520],[R,.55,185,498,520],[R,1.5,187,450],[R,1.5,208,450],[R,1.5,230,405],[R,.55,292,203,353],[R,.55,313,605,628],[D,1.1,338,465],[U,.55,362,595],
[R,1.1,437,615,637],[U,1.1,437,659,680],[R,1.1,443,702],[R,1.1,458,615,637],[U,1.1,458,659,680,702],[R,1.3,465,723],[R,1.5,475,743],[U,1.1,482,637,659,680,702],[R,1.3,500,723],[R,1.5,497,743,763],[U,1.1,505,637,659,680],[R,1.5,518,743],[L,.55,463,555],[U,.55,467,573,595],[U,.55,485,573,595,615],[U,.55,510,595,615],
[U,.55,530,615],[D,.55,552,620,640],[U,1.1,543,658],[L,.55,548,555],[D,.55,575,620,640],[D,1.1,590,615],[R,1.5,590,640],[R,1.5,585,655,675],[U,.55,595,600],[U,.55,612,597],[R,1.5,605,655,675],[R,.55,525,330],[R,.55,590,345],[R,.55,612,375],[R,.55,633,222,245],[R,.55,610,138],
[D,.55,627,487,508],[D,.55,650,465,487,508],[D,.55,672,487,508,530],[R,1.5,635,530],[R,.55,633,590],[U,.55,650,400,420],[U,1.1,680,380],[R,.55,718,357],[R,.55,720,330],[R,.55,690,315],[L,1.1,740,418],[U,1.1,783,420],[L,.55,762,190],[L,1.5,783,205],
[U,.7,783,483,505,527],[U,.7,805,483,505,527],[U,.7,827,483,505],[R,.55,762,290],[R,.55,785,290,310,330,350],[R,.55,805,310,330,350],[R,.55,827,310,330,350,245],[R,.55,848,310,330,267],[U,.55,850,375,395,415],[R,.55,870,267,330,350],[R,.55,890,267,330,350,372],[U,.55,873,182],[U,1.1,862,212],[U,1.1,885,212],[D,.8,850,745],
[R,.55,890,53],[R,.55,912,53,75],[L,.55,912,105,127],[R,.55,933,53,75,412,436,460],[U,1.1,933,120],[R,.55,955,53,75,412],[L,.7,955,440,462],[R,.55,977,53,75,412,436,460],[R,.55,998,53,75],[R,.55,1020,53],
];

const legendTicks = [5, 4, 3, 2, 1, 0];
const legendColors = [
  [5, 255, 0, 0], [4, 255, 128, 0], [3.1, 255, 200, 0], [2.65, 255, 255, 0], [2.3, 150, 230, 30], [2.05, 0, 204, 68],
  [1.6, 0, 127, 143], [1.22, 0, 0, 255], [0.55, 74, 0, 122], [0, 0, 0, 0],
];
const colorOf = (m: number) => {
  for (let i = 0; i < legendColors.length - 1; i++) {
    const a = legendColors[i], b = legendColors[i + 1];
    if (m <= a[0] && m >= b[0]) {
      const t = (a[0] - m) / (a[0] - b[0]);
      const c = [1, 2, 3].map((k) => Math.round(a[k] + (b[k] - a[k]) * t));
      return `rgb(${c[0]},${c[1]},${c[2]})`;
    }
  }
  return "rgb(255,0,0)";
};

const PX = 3; // grid units per pixel
const ArrowShape = (props: any) => {
  const { cx, cy, payload } = props;
  const dx = (payload.tx - payload.x) / PX, dy = (payload.ty - payload.y) / PX;
  const len = Math.hypot(dx, dy) || 1;
  const ux = dx / len, uy = dy / len, nx = -uy, ny = ux;
  const hl = Math.min(8.5, len * 0.7), hw = 3, sw = 1.05;
  const x1 = cx + dx, y1 = cy + dy, bx = x1 - ux * hl, by = y1 - uy * hl;
  const pts = [
    [cx + nx * sw, cy + ny * sw], [bx + nx * sw, by + ny * sw], [bx + nx * hw, by + ny * hw], [x1, y1],
    [bx - nx * hw, by - ny * hw], [bx - nx * sw, by - ny * sw], [cx - nx * sw, cy - ny * sw],
  ];
  return <polygon points={pts.map((p) => p.join(",")).join(" ")} fill={colorOf(payload.m)} />;
};
const TriShape = (props: any) => {
  const { cx, cy, payload } = props;
  const r = (payload.a * Math.PI) / 180;
  const ux = Math.cos(r), uy = -Math.sin(r), nx = -uy, ny = ux;
  const pts = [
    [cx + ux * 3, cy + uy * 3], [cx - ux * 2.8 + nx * 3, cy - uy * 2.8 + ny * 3], [cx - ux * 2.8 - nx * 3, cy - uy * 2.8 - ny * 3],
  ];
  return <polygon points={pts.map((p) => p.join(",")).join(" ")} fill={colorOf(payload.m)} />;
};

const Panel = ({ left, top, w, h, xd, yd, long, small }: any) => {
  const longData = long.map((a: A) => ({ x: a[0], y: a[1], tx: a[2], ty: a[3], m: a[4] }));
  const smallData = small.flatMap((r: A) => r.slice(3).map((x) => ({ x, y: r[2], a: r[0], m: r[1] })));
  return (
    <div style={{ position: "absolute", left, top, width: w, height: h, background: "#000" }}>
      <ScatterChart width={w} height={h} margin={{ top: 0, right: 0, bottom: 0, left: 0 }}>
        <XAxis type="number" dataKey="x" domain={xd} hide allowDataOverflow />
        <YAxis type="number" dataKey="y" domain={yd} reversed hide allowDataOverflow />
        <Scatter data={smallData} shape={TriShape} isAnimationActive={false} />
        <Scatter data={longData} shape={ArrowShape} isAnimationActive={false} />
      </ScatterChart>
    </div>
  );
};

const labelPos: Record<number, [number, number, number, number]> = {
  5: [185.7, 854, 203, 845], 4: [327.7, 854, 347, 847], 3: [474, 853, 491, 848], 2: [616.7, 852, 634, 849.5], 1: [761, 853, 778, 851], 0: [903, 853, 0, 0],
};
const LegendTick = (props: any) => {
  const v = props.payload.value;
  const [lx, ly, tx, ty] = labelPos[v];
  const ox = 174, oy = 788;
  return (
    <g>
      <text x={lx - ox} y={ly - oy} textAnchor="middle" fontFamily="Liberation Sans" fontWeight="bold" fontSize={17} fill="#d4d4d4">{v}</text>
      {v > 0 && (
        <polygon
          points={`${tx - ox - 1},${ty - oy} ${tx - ox + 1},${ty - oy} ${tx - ox + 2},${ty - oy + 4} ${tx - ox + 4},${ty - oy + 9.5} ${tx - ox - 4},${ty - oy + 9.5} ${tx - ox - 2},${ty - oy + 4}`}
          fill={colorOf(v === 2 ? 2 : v === 1 ? 1.05 : v === 3 ? 2.95 : v)}
        />
      )}
    </g>
  );
};

const stopsPct = legendColors.map((c) => ({ off: ((5 - c[0]) / 5) * 100, col: `rgb(${c[1]},${c[2]},${c[3]})` }));
const legendData = legendTicks.map((v) => ({ v, y: 0.5 }));
const NoMark = () => null;

export default function App() {
  return (
    <div style={{ position: "absolute", left: 0, top: 0, width: 1088, height: 866, background: "#fff", overflow: "hidden" }}>
      <Panel left={6} top={7} w={355} h={361} xd={[18, 1083]} yd={[21, 1104]} long={p1Long} small={p1Small} />
      <Panel left={370} top={7} w={355} h={361} xd={[15, 1080]} yd={[21, 1104]} long={p2Long} small={p2Small} />
      <Panel left={734} top={7} w={354} h={361} xd={[18, 1080]} yd={[21, 1104]} long={p3Long} small={p3Small} />
      <Panel left={6} top={397} w={355} h={362} xd={[18, 1083]} yd={[15, 1101]} long={p4Long} small={p4Small} />
      <Panel left={370} top={397} w={355} h={362} xd={[15, 1080]} yd={[15, 1101]} long={p5Long} small={p5Small} />
      <Panel left={734} top={397} w={354} h={362} xd={[18, 1080]} yd={[15, 1101]} long={p6Long} small={p6Small} />
      <div style={{ position: "absolute", left: 174, top: 788, width: 747, height: 78, background: "#000" }}>
        <ScatterChart width={747} height={78} margin={{ top: 0, right: 0, bottom: 0, left: 29 }}>
          <defs>
            <linearGradient id="speedRamp" x1="0" y1="0" x2="1" y2="0">
              {stopsPct.map((s) => (<stop key={s.off} offset={`${s.off}%`} stopColor={s.col} />))}
            </linearGradient>
          </defs>
          <XAxis type="number" dataKey="v" domain={[0, 5]} reversed ticks={legendTicks} interval={0} height={35} axisLine={false} tickLine={false} tick={<LegendTick />} />
          <YAxis type="number" dataKey="y" domain={[0, 1]} hide />
          <ReferenceArea x1={5} x2={0} y1={0} y2={1} fill="url(#speedRamp)" fillOpacity={1} stroke="none" ifOverflow="visible" />
          <Scatter data={legendData} shape={NoMark} isAnimationActive={false} />
        </ScatterChart>
      </div>
    </div>
  );
}
